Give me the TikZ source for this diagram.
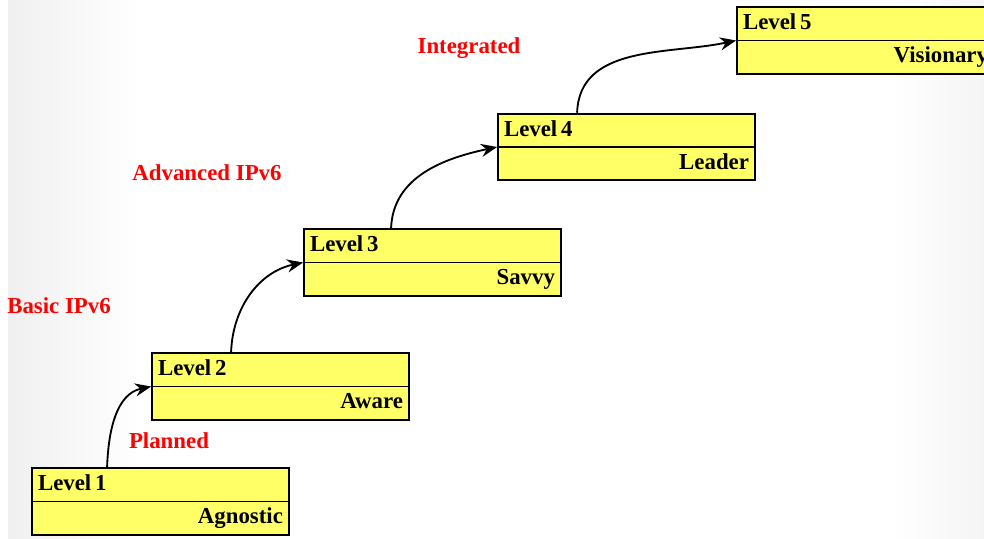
\documentclass[tikz,border=0pt]{standalone}
\usepackage{fontspec}
\setmainfont{Liberation Serif}
\usetikzlibrary{arrows.meta,shapes.multipart}
\definecolor{lvfill}{RGB}{255,255,102}
\newcommand{\lvstrut}{\rule[-0.2cm]{0pt}{0.63cm}}
\newcommand{\lvname}[1]{\makebox[4.9cm][l]{\lvstrut Level\,#1}}
\newcommand{\lvrole}[1]{\makebox[4.9cm][r]{\lvstrut #1}}

\begin{document}
\begin{tikzpicture}[x=0.02cm,y=-0.02cm,line width=1.05pt,font=\fontsize{13}{15}\selectfont\bfseries]
	\useasboundingbox (0,0) rectangle (984,538);
	\clip (0,0) rectangle (984,538);
	\shade[left color=black!6,right color=white] (8,0) rectangle (140,538);
	\shade[left color=white,right color=black!4] (890,0) rectangle (984,538);
	\tikzset{
		level/.style={rectangle split,rectangle split parts=2,draw,fill=lvfill,
			inner xsep=0.12cm,inner ysep=0pt},
		stage/.style={text=red},
		up/.style={-{Stealth[length=3.2mm,width=2.6mm]},out=88,in=192}
	}
	\node (lv1) at (160.5,501.5) [level] {\lvname{1}\nodepart{two}\lvrole{Agnostic}};
	\node (lv2) at (280.5,386.5) [level] {\lvname{2}\nodepart{two}\lvrole{Aware}};
	\node (lv3) at (432.5,262.5) [level] {\lvname{3}\nodepart{two}\lvrole{Savvy}};
	\node (lv4) at (626.5,147) [level] {\lvname{4}\nodepart{two}\lvrole{Leader}};
	\node (lv5) at (865.5,40.5) [level] {\lvname{5}\nodepart{two}\lvrole{Visionary}};
	\node (planned) at (169,441) [stage] {Planned};
	\node (basic) at (59,306) [stage] {Basic IPv6};
	\node (advanced) at (207,173) [stage] {Advanced IPv6};
	\node (integrated) at (469,48) [stage] {Integrated};
	\draw [up] ([xshift=1.52cm]lv1.north west) to (lv2.text split west);
	\draw [up] ([xshift=1.6cm]lv2.north west) to (lv3.text split west);
	\draw [up] ([xshift=1.76cm]lv3.north west) to (lv4.text split west);
	\draw [up] ([xshift=1.6cm]lv4.north west) to (lv5.text split west);
\end{tikzpicture}
\end{document}
